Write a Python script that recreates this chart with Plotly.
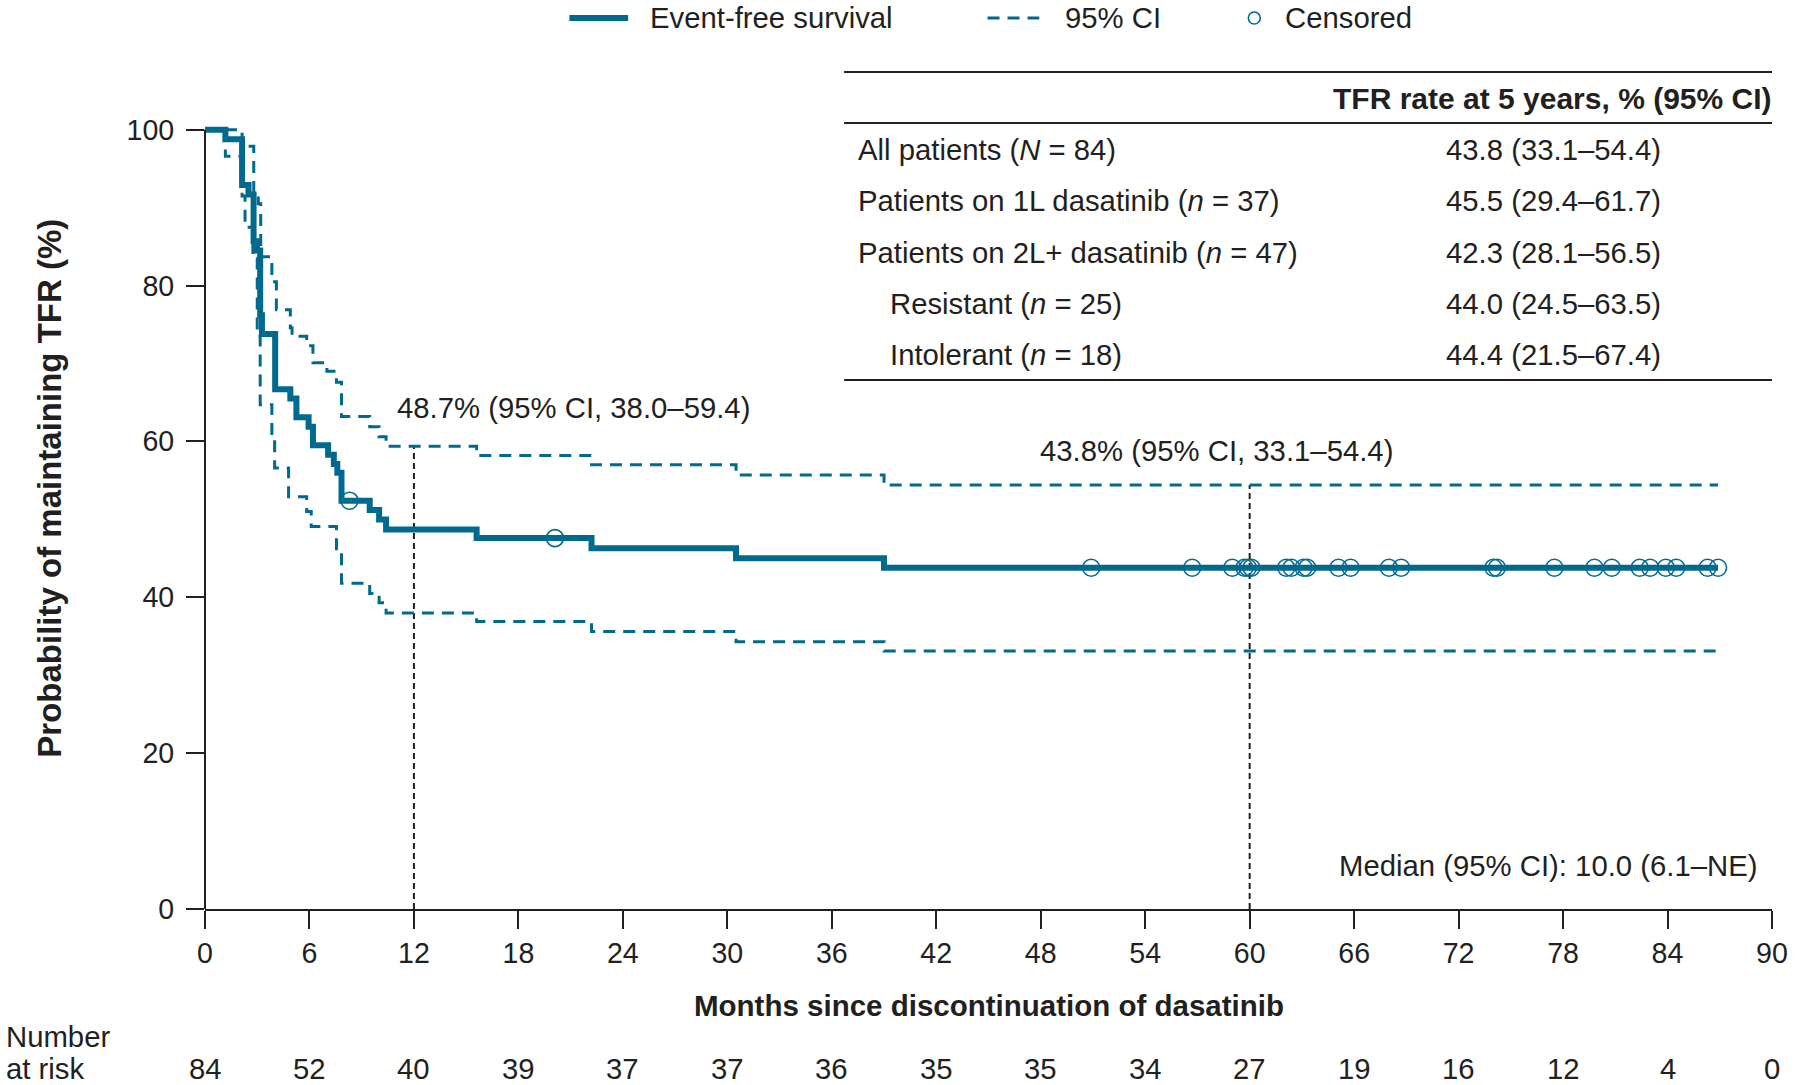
import plotly.graph_objects as go

# ---------------- data ----------------
surv_t = [0, 1.17, 2.13, 2.5, 2.79, 2.98, 3.17, 3.27, 4.03, 4.9, 5.25, 5.95, 6.2, 7.07, 7.4, 7.6, 7.84, 9.46, 10.0, 10.4, 15.6, 22.2, 30.5, 39.0, 86.9]
surv_p = [100, 98.8, 92.9, 91.7, 85.7, 84.5, 76.2, 73.8, 66.7, 65.5, 63.1, 61.9, 59.5, 58.3, 57.1, 56.0, 52.4, 51.2, 50.0, 48.7, 47.6, 46.3, 45.0, 43.8, 43.8]

upper_t = [0, 2.13, 2.8, 3.06, 3.2, 3.84, 4.1, 4.9, 5.0, 5.84, 6.2, 7.0, 7.55, 7.84, 9.46, 10.0, 10.4, 15.6, 22.2, 30.5, 39.0, 86.9]
upper_p = [100, 97.9, 92.0, 90.5, 83.7, 80.5, 76.9, 74.6, 73.5, 72.3, 70.1, 69.0, 67.6, 63.2, 61.9, 60.6, 59.4, 58.2, 57.0, 55.7, 54.4, 54.4]

lower_t = [0, 1.17, 2.13, 2.3, 2.75, 3.0, 3.17, 3.84, 4.0, 4.8, 5.84, 6.1, 7.55, 7.84, 9.46, 10.0, 10.4, 15.6, 22.2, 30.5, 39.0, 86.9]
lower_p = [100, 96.6, 91.5, 87.5, 83.5, 73.5, 64.7, 60.5, 56.6, 52.9, 51.0, 49.1, 46.0, 41.8, 40.5, 39.3, 38.0, 36.9, 35.6, 34.3, 33.1, 33.1]

cens_t = [8.3, 20.1, 50.9, 56.7, 59.0, 59.7, 59.9, 60.1, 62.1, 62.4, 63.1, 63.3, 65.1, 65.8,
          68.0, 68.7, 74.0, 74.2, 77.5, 79.8, 80.8, 82.4, 83.0, 83.9, 84.5, 86.3, 86.9]
cens_p = [52.4, 47.6] + [43.8] * 25

ref_months = [12, 60]
ref_upper = [59.4, 54.4]

x_ticks = [0, 6, 12, 18, 24, 30, 36, 42, 48, 54, 60, 66, 72, 78, 84, 90]
at_risk = [84, 52, 40, 39, 37, 37, 36, 35, 35, 34, 27, 19, 16, 12, 4, 0]
y_ticks = [0, 20, 40, 60, 80, 100]

table_header = "TFR rate at 5 years, % (95% CI)"
table_groups = ["All patients (<i>N</i> = 84)", "Patients on 1L dasatinib (<i>n</i> = 37)",
                "Patients on 2L+ dasatinib (<i>n</i> = 47)", "Resistant (<i>n</i> = 25)",
                "Intolerant (<i>n</i> = 18)"]
table_indent = [False, False, False, True, True]
table_values = ["43.8 (33.1–54.4)", "45.5 (29.4–61.7)", "42.3 (28.1–56.5)",
                "44.0 (24.5–63.5)", "44.4 (21.5–67.4)"]

label_12 = "48.7% (95% CI, 38.0–59.4)"
label_60 = "43.8% (95% CI, 33.1–54.4)"
median_label = "Median (95% CI): 10.0 (6.1–NE)"

# ---------------- style ----------------
TEAL = "#006a8e"
INK = "#231f20"
FONT = "Liberation Sans, Arial, Helvetica, sans-serif"
FS = 29.3
FS_TICK = 28.6

L, R, T, B = 205, 21, 122, 176
FW, FH = 1800, 1085
W = FW - L - R
H = FH - T - B


def px_x(px):
    return (px - L) / W


def px_y(py):
    return (T + H - py) / H


fig = go.Figure()

fig.add_trace(go.Scatter(x=upper_t, y=upper_p, mode="lines", line=dict(shape="hv", color=TEAL, width=3, dash="12px,8px"),
                         showlegend=False, hoverinfo="skip"))
fig.add_trace(go.Scatter(x=lower_t, y=lower_p, mode="lines", line=dict(shape="hv", color=TEAL, width=3, dash="12px,8px"),
                         showlegend=False, hoverinfo="skip"))
fig.add_trace(go.Scatter(x=surv_t, y=surv_p, mode="lines", line=dict(shape="hv", color=TEAL, width=6),
                         showlegend=False))
fig.add_trace(go.Scatter(x=cens_t, y=cens_p, mode="markers",
                         marker=dict(symbol="circle-open", size=17, color=TEAL, line=dict(width=1.6, color=TEAL)),
                         showlegend=False, cliponaxis=False))

LEG_Y = 18

shapes = []
# reference dashed lines
for m, u in zip(ref_months, ref_upper):
    shapes.append(dict(type="line", xref="x", yref="y", x0=m, x1=m, y0=0, y1=u,
                       line=dict(color=INK, width=2, dash="6px,4px"), layer="below"))
# y axis line
shapes.append(dict(type="line", xref="paper", yref="y", x0=0, x1=0, y0=0, y1=100,
                   line=dict(color=INK, width=2)))
# table rules
for py in [72, 123, 380]:
    shapes.append(dict(type="line", xref="paper", yref="paper", x0=px_x(847), x1=px_x(1779),
                       y0=px_y(py), y1=px_y(py), line=dict(color=INK, width=2)))
# legend symbols
shapes.append(dict(type="line", xref="paper", yref="paper", x0=px_x(571), x1=px_x(630),
                   y0=px_y(LEG_Y), y1=px_y(LEG_Y), line=dict(color=TEAL, width=6)))
shapes.append(dict(type="line", xref="paper", yref="paper", x0=px_x(991), x1=px_x(1043),
                   y0=px_y(LEG_Y), y1=px_y(LEG_Y), line=dict(color=TEAL, width=3, dash="12px,8px")))
shapes.append(dict(type="circle", xref="paper", yref="paper", x0=px_x(1253), x1=px_x(1265),
                   y0=px_y(LEG_Y - 6), y1=px_y(LEG_Y + 6), line=dict(color=TEAL, width=1.6)))

ann = []


def txt(text, x, y, xanchor="left", xref="paper", bold=False, size=FS, **kw):
    if bold:
        text = "<b>" + text + "</b>"
    ann.append(dict(text=text, x=x, y=y, xref=xref, yref="paper", xanchor=xanchor, yanchor="middle",
                    showarrow=False, font=dict(family=FONT, size=size, color=INK), **kw))


# legend texts
txt("Event-free survival", px_x(650), px_y(LEG_Y))
txt("95% CI", px_x(1067), px_y(LEG_Y))
txt("Censored", px_x(1288), px_y(LEG_Y))

# table
txt(table_header, px_x(1781), px_y(98.5), xanchor="right", bold=True, size=30)
row_y = [150, 201, 252, 303, 354]
for g, ind, v, ry in zip(table_groups, table_indent, table_values, row_y):
    txt(g, px_x(891 if ind else 859), px_y(ry))
    txt(v, px_x(1450), px_y(ry))

# curve labels
txt(label_12, px_x(396), px_y(408))
txt(label_60, px_x(1042), px_y(451))
txt(median_label, px_x(1766), px_y(865), xanchor="right")

# axis titles
txt("Months since discontinuation of dasatinib", 0.5, px_y(1005), xanchor="center", bold=True, size=29.5)
txt("Probability of maintaining TFR (%)", px_x(48), px_y(488), xanchor="center", bold=True, size=33,
    textangle=-90)

# number at risk
txt("Number", px_x(3), px_y(1036))
txt("at risk", px_x(3), px_y(1068))
for xv, n in zip(x_ticks, at_risk):
    txt(str(n), xv, px_y(1068), xanchor="center", xref="x")

fig.update_layout(
    width=FW, height=FH,
    margin=dict(l=L, r=R, t=T, b=B, pad=0),
    plot_bgcolor="white", paper_bgcolor="white",
    font=dict(family=FONT, size=FS, color=INK),
    shapes=shapes, annotations=ann,
    showlegend=False,
    xaxis=dict(range=[0, 90], tickvals=x_ticks, ticktext=[str(v) for v in x_ticks],
               showline=True, linecolor=INK, linewidth=2, ticks="outside", ticklen=18, tickwidth=2,
               tickcolor=INK, showgrid=False, zeroline=False, tickfont=dict(size=FS_TICK, color=INK)),
    yaxis=dict(range=[0, 101], tickvals=y_ticks, ticktext=[str(v) for v in y_ticks],
               showline=False, ticks="outside", ticklen=18, tickwidth=2, tickcolor=INK,
               ticklabelstandoff=6,
               showgrid=False, zeroline=False, tickfont=dict(size=FS_TICK, color=INK)),
)

fig.write_html("out.html", config={"displayModeBar": False},
               post_script="document.body.style.margin='0px';")
